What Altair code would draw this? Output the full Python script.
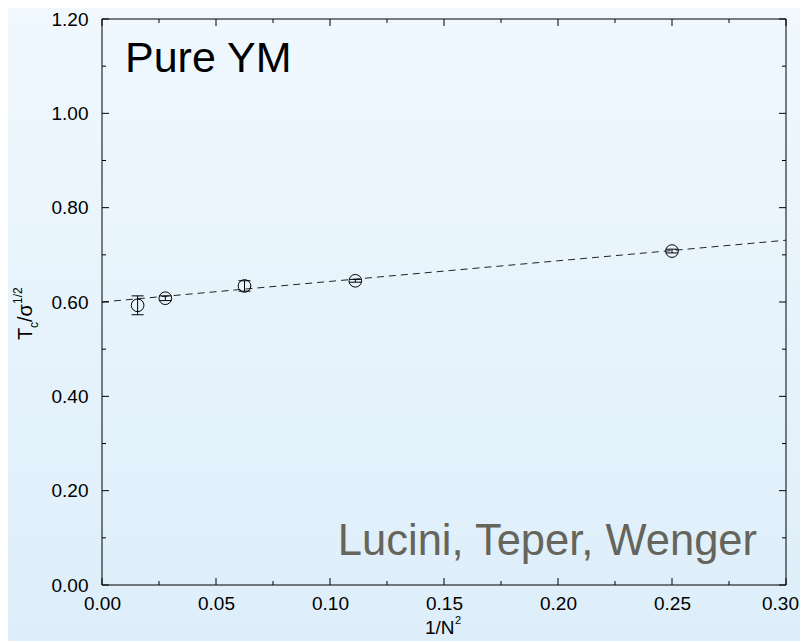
import altair as alt
import pandas as pd

# ---- data ----
inv_n2 = [0.015625, 0.027778, 0.0625, 0.111111, 0.25]   # 1/N^2 for N = 8, 6, 4, 3, 2
tc_sigma = [0.593, 0.608, 0.634, 0.645, 0.708]
tc_err = [0.020, 0.005, 0.011, 0.003, 0.004]

fit_x = [0.0, 0.30]
fit_y = [0.600, 0.731]

x_major = [0.00, 0.05, 0.10, 0.15, 0.20, 0.25, 0.30]
x_minor = [0.025, 0.075, 0.125, 0.175, 0.225, 0.275]
y_major = [0.0, 0.2, 0.4, 0.6, 0.8, 1.0, 1.2]
y_minor = [0.1, 0.3, 0.5, 0.7, 0.9, 1.1]

label_text = ["Pure YM"]
credit_text = ["Lucini, Teper, Wenger"]

# ---- layout ----
W, H = 684, 566
PAD = {"left": 94, "top": 11, "right": 14, "bottom": 56}
FONT = "Liberation Sans"

xscale = alt.Scale(domain=[0.0, 0.30], nice=False, zero=False)
yscale = alt.Scale(domain=[0.0, 1.20], nice=False, zero=False)
xaxis = alt.Axis(values=x_major, format=".2f", ticks=False, domain=False, grid=False,
                 labelFont=FONT, labelFontSize=19, labelPadding=9, labelColor="black",
                 labelOffset={"condition": {"test": "datum.value > 0.29", "value": -6}, "value": 0},
                 labelOverlap=False, labelFlush=False, title=None, zindex=1)
yaxis = alt.Axis(values=y_major, format=".2f", ticks=False, domain=False, grid=False,
                 labelFont=FONT, labelFontSize=19, labelPadding=14, labelColor="black",
                 labelOverlap=False, labelFlush=False, title=None, zindex=1)


def X(f):
    return alt.X(f, type="quantitative", scale=xscale, axis=xaxis)


def Y(f):
    return alt.Y(f, type="quantitative", scale=yscale, axis=yaxis)


one = pd.DataFrame({"k": [0]})

# gradient background covering the canvas
grad = alt.LinearGradient(
    gradient="linear", x1=0, x2=0, y1=0, y2=1,
    stops=[alt.GradientStop(offset=0, color="#f0f8fe"),
           alt.GradientStop(offset=1, color="#ddeefa")],
)
bg = alt.Chart(one).mark_rect(color=grad).encode(
    x=alt.value(-PAD["left"]), x2=alt.value(W + PAD["right"]),
    y=alt.value(-PAD["top"]), y2=alt.value(H + PAD["bottom"]),
)

frame = alt.Chart(one).mark_rect(fillOpacity=0, stroke="black", strokeWidth=1).encode(
    x=alt.value(0), x2=alt.value(W), y=alt.value(0), y2=alt.value(H)
)


def xticks(vals, length):
    d = pd.DataFrame({"v": vals})
    bottom = alt.Chart(d).mark_rule(color="black", strokeWidth=1).encode(
        x=X("v"), y=alt.value(H), y2=alt.value(H - length))
    top = alt.Chart(d).mark_rule(color="black", strokeWidth=1).encode(
        x=X("v"), y=alt.value(0), y2=alt.value(length))
    return [bottom, top]


def yticks(vals, length):
    d = pd.DataFrame({"v": vals})
    left = alt.Chart(d).mark_rule(color="black", strokeWidth=1).encode(
        y=Y("v"), x=alt.value(0), x2=alt.value(length))
    right = alt.Chart(d).mark_rule(color="black", strokeWidth=1).encode(
        y=Y("v"), x=alt.value(W), x2=alt.value(W - length))
    return [left, right]


ticks = xticks(x_major, 7) + xticks(x_minor, 4) + yticks(y_major, 7) + yticks(y_minor, 4)

pts = pd.DataFrame({"x": inv_n2, "y": tc_sigma, "e": tc_err})
pts["lo"] = pts["y"] - pts["e"]
pts["hi"] = pts["y"] + pts["e"]

fit = alt.Chart(pd.DataFrame({"x": fit_x, "y": fit_y})).mark_line(
    color="#222222", strokeWidth=1, strokeDash=[7, 5]
).encode(x=X("x"), y=Y("y"))

ebar = alt.Chart(pts).mark_rule(color="black", strokeWidth=1).encode(
    x=X("x"), y=Y("lo"), y2="hi")
cap_lo = alt.Chart(pts).mark_rule(color="black", strokeWidth=1, xOffset=-6, x2Offset=6).encode(
    x=X("x"), x2="x", y=Y("lo"))
cap_hi = alt.Chart(pts).mark_rule(color="black", strokeWidth=1, xOffset=-6, x2Offset=6).encode(
    x=X("x"), x2="x", y=Y("hi"))
circles = alt.Chart(pts).mark_point(
    shape="circle", size=160, filled=False, color="black", strokeWidth=1, opacity=1
).encode(x=X("x"), y=Y("y"))

pure = alt.Chart(pd.DataFrame({"t": label_text})).mark_text(
    align="left", baseline="alphabetic", font=FONT, fontSize=43, color="black"
).encode(text="t:N", x=alt.value(23), y=alt.value(53))

credit = alt.Chart(pd.DataFrame({"t": credit_text})).mark_text(
    align="right", baseline="alphabetic", font=FONT, fontSize=43.5, color="#66655b"
).encode(text="t:N", x=alt.value(655), y=alt.value(536))


def piece(txt, size, px, py, angle=0):
    props = dict(align="left", baseline="alphabetic", font=FONT, fontSize=size, color="black")
    if angle:
        props["angle"] = angle
    return alt.Chart(pd.DataFrame({"t": [txt]})).mark_text(**props).encode(
        text="t:N", x=alt.value(px), y=alt.value(py))


# y-axis title  T_c / sigma^{1/2}  (rotated)
ytitle = [
    piece("T", 20, -70, 321, 270),
    piece("c", 12, -64, 309, 270),
    piece("/\u03c3", 20, -70, 303, 270),
    piece("1/2", 12, -80, 285, 270),
]
# x-axis title  1/N^2
xtitle = [
    piece("1/N", 19, 323, 615),
    piece("2", 11, 353, 605),
]

chart = alt.layer(
    bg, fit, ebar, cap_lo, cap_hi, circles, *ticks, frame, pure, credit, *ytitle, *xtitle
).properties(
    width=W, height=H,
    autosize=alt.AutoSizeParams(type="none"),
    padding=PAD,
    background="#e6f3fc",
).configure_view(stroke=None)

chart.save("out.html", embed_options={"renderer": "svg", "actions": False})
